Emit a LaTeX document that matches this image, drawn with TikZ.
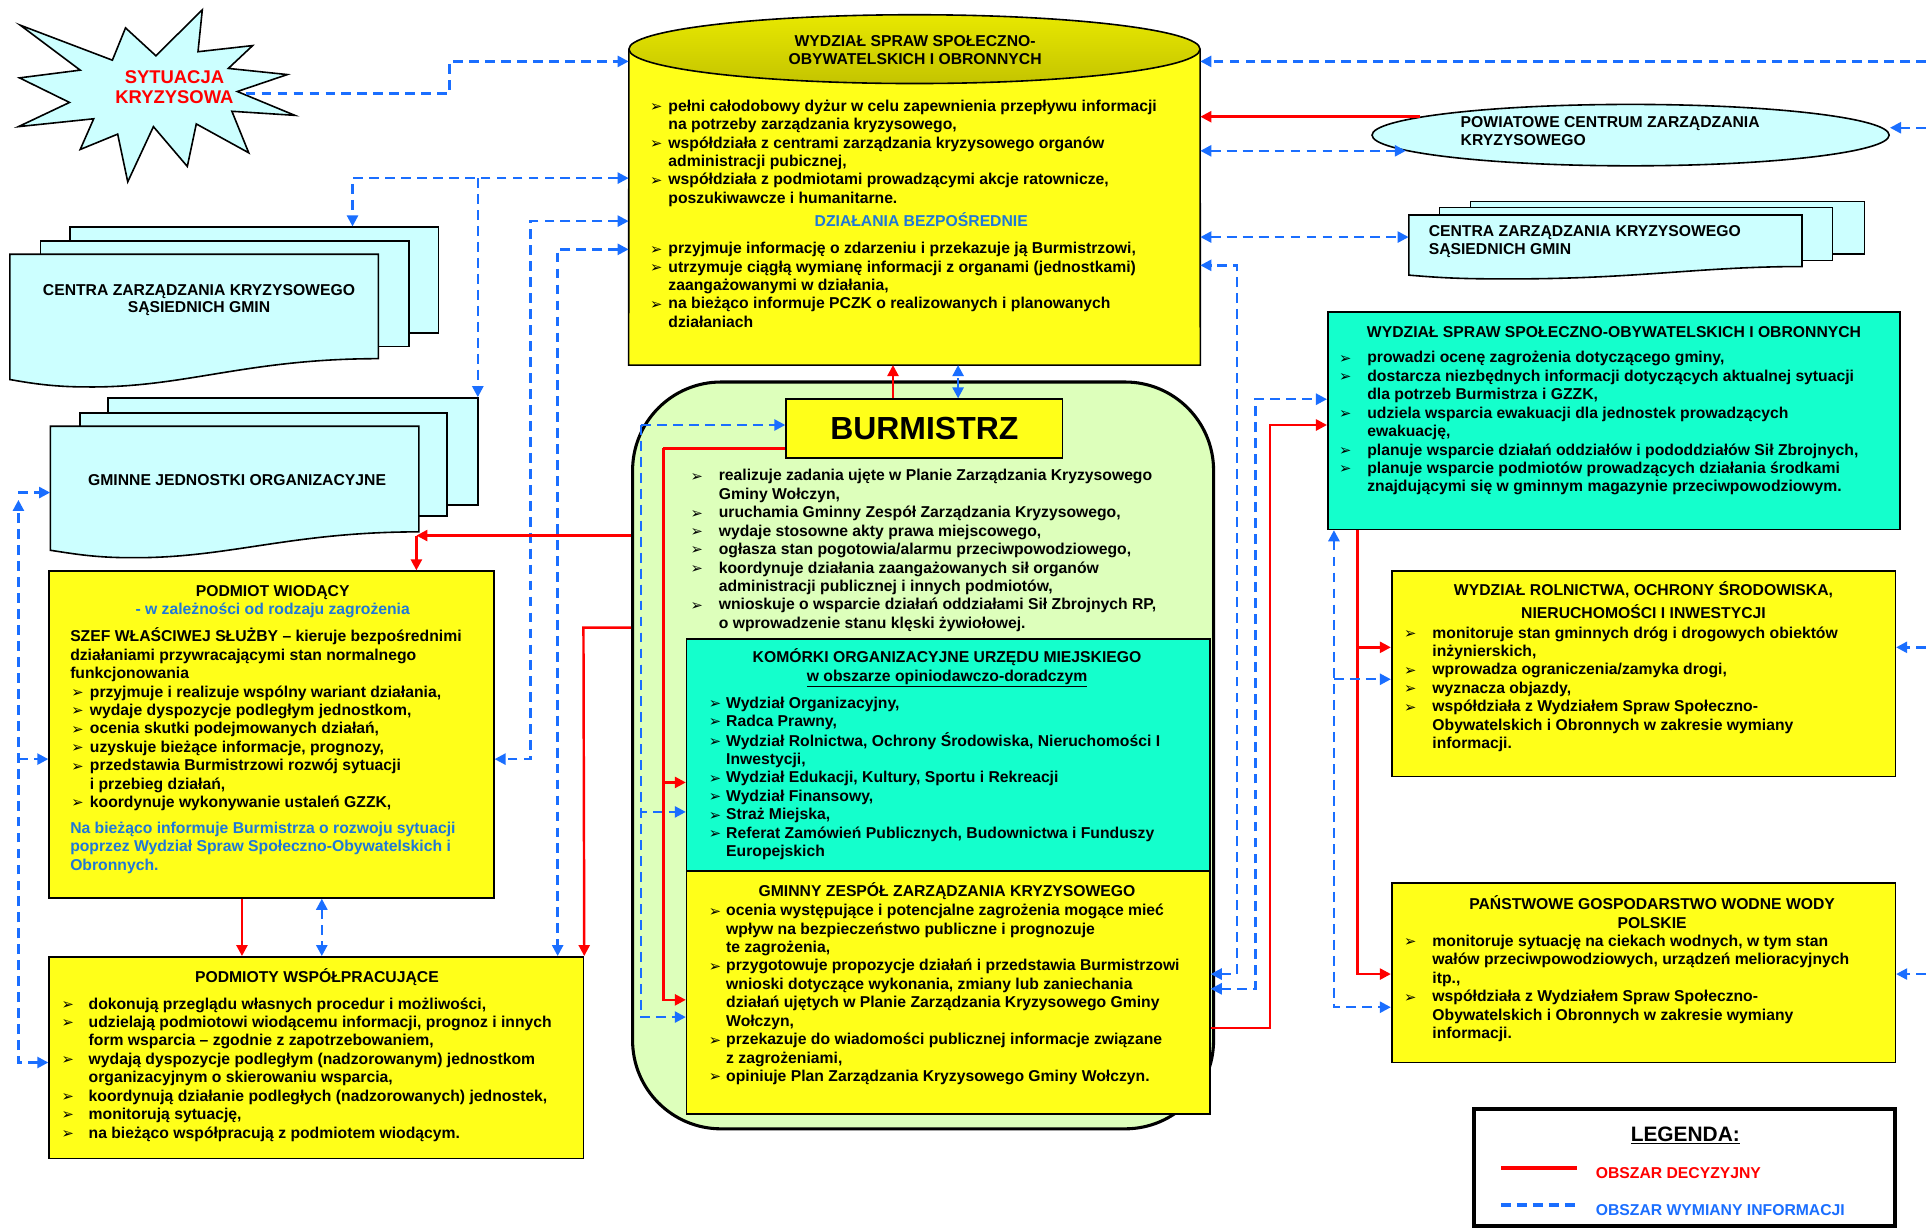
\documentclass[tikz,border=0pt]{standalone}
\usepackage{fontspec}
\setmainfont{Liberation Sans}
\newfontfamily\dejavu{DejaVu Sans}
\usetikzlibrary{arrows.meta,calc,shapes.geometric}
\definecolor{yel}{HTML}{FFFF19}
\definecolor{yeltop}{HTML}{E8E800}
\definecolor{yelbot}{HTML}{C4C400}
\definecolor{cya}{HTML}{CCFFFF}
\definecolor{tea}{HTML}{14FFCC}
\definecolor{lgr}{HTML}{DDFFBB}
\definecolor{blu}{HTML}{1A6EFF}
\definecolor{btx}{HTML}{1F77D9}
\definecolor{rd}{HTML}{FF0000}
\newcommand\body{\fontsize{12.8}{15}\selectfont\bfseries}
\newcommand\bl{\raisebox{-0.3pt}{\dejavu\bfseries\fontsize{12}{12}\selectfont ➢}}
\tikzset{
  box/.style={draw=black, line width=1.3pt, inner sep=0pt},
  txt/.style={inner sep=0pt, anchor=base west, font=\body},
  ctx/.style={inner sep=0pt, anchor=base, font=\body, align=center},
  info/.style={draw=blu, line width=2pt, dash pattern=on 8pt off 5pt},
  dec/.style={draw=rd, line width=2pt},
  >={Triangle[length=9pt,width=9pt]},
  doc/.style={draw=black, line width=1.3pt, fill=cya}
}
\begin{document}
\begin{tikzpicture}[x=1pt,y=-1pt]
\useasboundingbox (0,0) rectangle (1568,1001);
\fill[white] (0,0) rectangle (1568,1001);

% ---------- star ----------
\draw[line width=1.3pt, fill=cya] (16.5,20.5) -- (91.5,49) -- (102.2,22.7) -- (126.9,45.4) -- (164.7,8) -- (161.2,42.1) -- (205.7,37.1) -- (185.9,55.7) -- (233.9,60.7) -- (193.2,74.5) -- (240,93.9) -- (188.8,90.6) -- (202.5,124.4) -- (159.8,100.9) -- (152.5,135.5) -- (124.9,103.1) -- (104,148) -- (95.8,109.2) -- (65.3,121.7) -- (76.3,96.7) -- (15,103.1) -- (56.6,83.4) -- (15.9,63.4) -- (65.3,57.1) -- cycle;
\node[inner sep=0pt, align=center, text=rd, font=\fontsize{15}{17}\selectfont\bfseries] (sit) at (142,71) {SYTUACJA\\KRYZYSOWA};
\coordinate (sittip) at (200,76);

% ---------- cylinder ----------
\node[inner sep=0pt, minimum width=465pt, minimum height=285pt] (cyl) at (744.5,154.5) {};
\fill[yel] (512,40) -- (cyl.south west) -- (cyl.south east) -- (977,40) -- cycle;
\draw[line width=1.3pt] (512,40) -- (cyl.south west) -- (cyl.south east) -- (977,40);
\shade[top color=yeltop, bottom color=yelbot] (744.5,40) ellipse [x radius=232.5pt, y radius=28pt];
\draw[line width=1.3pt] (744.5,40) ellipse [x radius=232.5pt, y radius=28pt];
\node[ctx] (cyltt) at (745,37.5) {\begin{tabular}[t]{@{}c@{}}WYDZIAŁ SPRAW SPOŁECZNO-\\OBYWATELSKICH I OBRONNYCH\end{tabular}};
\node[txt] (cyltx1) at (529,90.5) {\begin{tabular}[t]{@{}p{15pt}@{}l@{}}
\bl & pełni całodobowy dyżur w celu zapewnienia przepływu informacji\\
 & na potrzeby zarządzania kryzysowego,\\
\bl & współdziała z centrami zarządzania kryzysowego organów\\
 & administracji pubicznej,\\
\bl & współdziała z podmiotami prowadzącymi akcje ratownicze,\\
 & poszukiwawcze i humanitarne.
\end{tabular}};
\node[ctx, text=btx] (cylhd) at (750,184.5) {DZIAŁANIA BEZPOŚREDNIE};
\node[txt] (cyltx2) at (529,206.5) {\begin{tabular}[t]{@{}p{15pt}@{}l@{}}
\bl & przyjmuje informację o zdarzeniu i przekazuje ją Burmistrzowi,\\
\bl & utrzymuje ciągłą wymianę informacji z organami (jednostkami)\\
 & zaangażowanymi w działania,\\
\bl & na bieżąco informuje PCZK o realizowanych i planowanych\\
 & działaniach
\end{tabular}};

% ---------- PCZK ellipse ----------
\node[draw=black, line width=1.3pt, fill=cya, ellipse, inner sep=0pt, minimum width=421pt, minimum height=50pt] (pczk) at (1327.5,110) {};
\node[txt] (pczkt) at (1189,103.5) {\begin{tabular}[t]{@{}l@{}}POWIATOWE CENTRUM ZARZĄDZANIA\\KRYZYSOWEGO\end{tabular}};

% ---------- right CENTRA (documents) ----------
\node[box, fill=cya, minimum width=321pt, minimum height=43pt] (cen2c) at (1357.5,185.5) {};
\node[box, fill=cya, minimum width=320pt, minimum height=43pt] (cen2b) at (1332,190.5) {};
\draw[doc] (1147,175) -- (1467,175) -- (1467,217) .. controls (1380,217) and (1330,228) .. (1215,227) .. controls (1180,227) and (1160,225) .. (1147,224) -- cycle;
\node[inner sep=0pt, minimum width=320pt, minimum height=50pt] (cen2) at (1307,200) {};
\node[txt] (cen2t) at (1163,192.5) {\begin{tabular}[t]{@{}l@{}}CENTRA ZARZĄDZANIA KRYZYSOWEGO\\SĄSIEDNICH GMIN\end{tabular}};

% ---------- WYDZIAL (teal, right) ----------
\node[box, fill=tea, minimum width=466pt, minimum height=177pt] (wyd) at (1314,342.5) {};
\node[ctx] (wydt) at (1314,274.5) {WYDZIAŁ SPRAW SPOŁECZNO-OBYWATELSKICH I OBRONNYCH};
\node[txt] (wydx) at (1090,295.5) {\begin{tabular}[t]{@{}p{23pt}@{}l@{}}
\bl & prowadzi ocenę zagrożenia dotyczącego gminy,\\
\bl & dostarcza niezbędnych informacji dotyczących aktualnej sytuacji\\
 & dla potrzeb Burmistrza i GZZK,\\
\bl & udziela wsparcia ewakuacji dla jednostek prowadzących\\
 & ewakuację,\\
\bl & planuje wsparcie działań oddziałów i pododdziałów Sił Zbrojnych,\\
\bl & planuje wsparcie podmiotów prowadzących działania środkami\\
 & znajdującymi się w gminnym magazynie przeciwpowodziowym.
\end{tabular}};

% ---------- ROLNICTWA ----------
\node[box, fill=yel, minimum width=410pt, minimum height=167pt] (rol) at (1338,548.5) {};
\node[ctx] (rolt) at (1338,484.5) {\begin{tabular}[t]{@{}c@{}}WYDZIAŁ ROLNICTWA, OCHRONY ŚRODOWISKA,\\[3pt]NIERUCHOMOŚCI I INWESTYCJI\end{tabular}};
\node[txt] (rolx) at (1143,519.5) {\begin{tabular}[t]{@{}p{23pt}@{}l@{}}
\bl & monitoruje stan gminnych dróg i drogowych obiektów\\
 & inżynierskich,\\
\bl & wprowadza ograniczenia/zamyka drogi,\\
\bl & wyznacza objazdy,\\
\bl & współdziała z Wydziałem Spraw Społeczno-\\
 & Obywatelskich i Obronnych w zakresie wymiany\\
 & informacji.
\end{tabular}};

% ---------- PANSTWOWE ----------
\node[box, fill=yel, minimum width=410pt, minimum height=146pt] (pgw) at (1338,792) {};
\node[ctx] (pgwt) at (1345,740.5) {\begin{tabular}[t]{@{}c@{}}PAŃSTWOWE GOSPODARSTWO WODNE WODY\\POLSKIE\end{tabular}};
\node[txt] (pgwx) at (1143,770.5) {\begin{tabular}[t]{@{}p{23pt}@{}l@{}}
\bl & monitoruje sytuację na ciekach wodnych, w tym stan\\
 & wałów przeciwpowodziowych, urządzeń melioracyjnych\\
 & itp.,\\
\bl & współdziała z Wydziałem Spraw Społeczno-\\
 & Obywatelskich i Obronnych w zakresie wymiany\\
 & informacji.
\end{tabular}};

% ---------- left CENTRA (documents) ----------
\node[box, fill=cya, minimum width=300pt, minimum height=86pt] (cen1c) at (207,228) {};
\node[box, fill=cya, minimum width=300pt, minimum height=86pt] (cen1b) at (183,239) {};
\draw[doc] (8,207) -- (308,207) -- (308,292) .. controls (200,292) and (150,316) .. (70,315) .. controls (40,315) and (20,311) .. (8,309) -- cycle;
\node[inner sep=0pt, minimum width=300pt, minimum height=108pt] (cen1) at (158,261) {};
\node[ctx] (cen1t) at (162,240.5) {\begin{tabular}[t]{@{}c@{}}CENTRA ZARZĄDZANIA KRYZYSOWEGO\\[-1pt]SĄSIEDNICH GMIN\end{tabular}};

% ---------- GMINNE JEDNOSTKI ----------
\node[box, fill=cya, minimum width=301pt, minimum height=87pt] (gmc) at (238.5,367.5) {};
\node[box, fill=cya, minimum width=299pt, minimum height=84pt] (gmb) at (214.5,378) {};
\draw[doc] (41,347) -- (341,347) -- (341,433) .. controls (235,433) and (185,455) .. (105,454) .. controls (75,454) and (55,450) .. (41,448) -- cycle;
\node[inner sep=0pt, minimum width=300pt, minimum height=107pt] (gm) at (191,400.5) {};
\node[ctx] (gmt) at (193,395.5) {GMINNE JEDNOSTKI ORGANIZACYJNE};

% ---------- PODMIOT WIODACY ----------
\node[box, fill=yel, minimum width=362pt, minimum height=266pt] (pw) at (221,598) {};
\node[ctx] (pwt) at (222,485.5) {PODMIOT WIODĄCY};
\node[ctx, text=btx] (pws1) at (222,500.5) {- w zależności od rodzaju zagrożenia};
\node[txt] (pwa) at (57,522.5) {\begin{tabular}[t]{@{}l@{}}SZEF WŁAŚCIWEJ SŁUŻBY – kieruje bezpośrednimi\\działaniami przywracającymi stan normalnego\\funkcjonowania\end{tabular}};
\node[txt] (pwb) at (58,567.5) {\begin{tabular}[t]{@{}p{15pt}@{}l@{}}
\bl & przyjmuje i realizuje wspólny wariant działania,\\
\bl & wydaje dyspozycje podległym jednostkom,\\
\bl & ocenia skutki podejmowanych działań,\\
\bl & uzyskuje bieżące informacje, prognozy,\\
\bl & przedstawia Burmistrzowi rozwój sytuacji\\
 & i przebieg działań,\\
\bl & koordynuje wykonywanie ustaleń GZZK,
\end{tabular}};
\node[txt, text=btx] (pwc) at (57,678.5) {\begin{tabular}[t]{@{}l@{}}Na bieżąco informuje Burmistrza o rozwoju sytuacji\\poprzez Wydział Spraw Społeczno-Obywatelskich i\\Obronnych.\end{tabular}};

% ---------- PODMIOTY WSPOLPRACUJACE ----------
\node[box, fill=yel, minimum width=435pt, minimum height=164pt] (pws) at (257.5,861) {};
\node[ctx] (pwst) at (258,799.5) {PODMIOTY WSPÓŁPRACUJĄCE};
\node[txt] (pwsx) at (50,821.5) {\begin{tabular}[t]{@{}p{22pt}@{}l@{}}
\bl & dokonują przeglądu własnych procedur i możliwości,\\
\bl & udzielają podmiotowi wiodącemu informacji, prognoz i innych\\
 & form wsparcia – zgodnie z zapotrzebowaniem,\\
\bl & wydają dyspozycje podległym (nadzorowanym) jednostkom\\
 & organizacyjnym o skierowaniu wsparcia,\\
\bl & koordynują działanie podległych (nadzorowanych) jednostek,\\
\bl & monitorują sytuację,\\
\bl & na bieżąco współpracują z podmiotem wiodącym.
\end{tabular}};

% ---------- container with BURMISTRZ ----------
\node[draw=black, line width=2.5pt, fill=lgr, rounded corners=72pt, minimum width=473pt, minimum height=608pt, inner sep=0pt] (cont) at (751.5,615) {};
\node[box, fill=yel, minimum width=225pt, minimum height=48pt, font=\fontsize{26}{26}\selectfont\bfseries] (bur) at (752.5,349) {BURMISTRZ};
\node[txt] (burx) at (562,391.5) {\begin{tabular}[t]{@{}p{23pt}@{}l@{}}
\bl & realizuje zadania ujęte w Planie Zarządzania Kryzysowego\\
 & Gminy Wołczyn,\\
\bl & uruchamia Gminny Zespół Zarządzania Kryzysowego,\\
\bl & wydaje stosowne akty prawa miejscowego,\\
\bl & ogłasza stan pogotowia/alarmu przeciwpowodziowego,\\
\bl & koordynuje działania zaangażowanych sił organów\\
 & administracji publicznej i innych podmiotów,\\
\bl & wnioskuje o wsparcie działań oddziałami Sił Zbrojnych RP,\\
 & o wprowadzenie stanu klęski żywiołowej.
\end{tabular}};

\node[box, fill=tea, minimum width=426pt, minimum height=189pt] (kom) at (772,614.5) {};
\node[ctx] (komt) at (771,539.5) {\begin{tabular}[t]{@{}c@{}}KOMÓRKI ORGANIZACYJNE URZĘDU MIEJSKIEGO\\\underline{w obszarze opiniodawczo-doradczym}\end{tabular}};
\node[txt] (komx) at (577,576.5) {\begin{tabular}[t]{@{}p{14pt}@{}l@{}}
\bl & Wydział Organizacyjny,\\
\bl & Radca Prawny,\\
\bl & Wydział Rolnictwa, Ochrony Środowiska, Nieruchomości I\\
 & Inwestycji,\\
\bl & Wydział Edukacji, Kultury, Sportu i Rekreacji\\
\bl & Wydział Finansowy,\\
\bl & Straż Miejska,\\
\bl & Referat Zamówień Publicznych, Budownictwa i Funduszy\\
 & Europejskich
\end{tabular}};

\node[box, fill=yel, minimum width=426pt, minimum height=198pt] (gzzk) at (772,808) {};
\node[ctx] (gzzkt) at (771,729.5) {GMINNY ZESPÓŁ ZARZĄDZANIA KRYZYSOWEGO};
\node[txt] (gzzkx) at (577,745.5) {\begin{tabular}[t]{@{}p{14pt}@{}l@{}}
\bl & ocenia występujące i potencjalne zagrożenia mogące mieć\\
 & wpływ na bezpieczeństwo publiczne i prognozuje\\
 & te zagrożenia,\\
\bl & przygotowuje propozycje działań i przedstawia Burmistrzowi\\
 & wnioski dotyczące wykonania, zmiany lub zaniechania\\
 & działań ujętych w Planie Zarządzania Kryzysowego Gminy\\
 & Wołczyn,\\
\bl & przekazuje do wiadomości publicznej informacje związane\\
 & z zagrożeniami,\\
\bl & opiniuje Plan Zarządzania Kryzysowego Gminy Wołczyn.
\end{tabular}};

% ---------- legend ----------
\node[draw=black, line width=3pt, minimum width=343pt, minimum height=95pt, inner sep=0pt] (leg) at (1371.5,950.5) {};
\node[ctx, font=\fontsize{17}{17}\selectfont\bfseries] (legt) at (1372,929) {\underline{LEGENDA:}};
\coordinate (lr1) at (1222,951);
\coordinate (lr2) at (1284,951);
\coordinate (lb1) at (1222,981);
\coordinate (lb2) at (1284,981);
\draw[dec, line width=3pt] (lr1) -- (lr2);
\draw[info, line width=3pt] (lb1) -- (lb2);
\node[txt, text=rd] (legr) at (1299,959.5) {OBSZAR DECYZYJNY};
\node[txt, text=blu] (legb) at (1299,989.5) {OBSZAR WYMIANY INFORMACJI};

% ---------- off-page free ends ----------
\coordinate (offA) at (1568,50);
\coordinate (offB) at (1568,104);
\coordinate (offC) at (1568,527);
\coordinate (offD) at (1568,793);

% ---------- connectors ----------
\draw[info,->] (sittip) -- (366,76) |- (cyl.west |- 0,50);
\draw[info,->] (offA) -- (cyl.east |- offA);
\draw[dec,->] (pczk.175) -- (cyl.east |- pczk.175);
\draw[info,<->] (cyl.east |- pczk.184) -- (pczk.184);
\draw[info,->] (offB) -- (pczk.east |- offB);
\draw[info,<->] (cyl.east |- 0,193) -- (cen2.west |- 0,193);

\draw[info,<->] (gzzk.east |- 0,793) -- (1007,793) |- (cyl.east |- 0,216);
\draw[info,<->] (gzzk.east |- 0,805) -- (1022,805) |- (wyd.west |- 0,325);
\draw[dec,->] (gzzk.east |- 0,837) -- (1034,837) |- (wyd.west |- 0,346);
\draw[dec,->] (wyd.south -| 1105,0) |- (rol.west |- 0,527);
\draw[dec,->] (wyd.south -| 1105,0) |- (pgw.west |- 0,793);
\draw[info,<->] (wyd.south -| 1086,0) |- (pgw.west |- 0,820);
\coordinate (jb) at (1086,553);
\draw[info,->] (jb) -- (rol.west |- jb);
\draw[info,->] (offC) -- (rol.east |- offC);
\draw[info,->] (offD) -- (pgw.east |- offD);

\draw[info,<->] (cyl.west |- 0,145) -| (cen1c.north -| 287,0);
\coordinate (jg) at (389,145);
\draw[info,->] (jg) -- (gmc.north -| jg);
\draw[info,<->] (cyl.west |- 0,180) -- (432,180) |- (pw.east |- 0,618);
\draw[info,<->] (cyl.west |- 0,203) -| (pws.north -| 454,0);
\coordinate (jr) at (339,436);
\draw[dec,->] (cont.west |- jr) -- (jr);
\draw[dec,->] (jr) -- (pw.north -| jr);
\draw[dec,->] (cont.west |- 0,511) -- (475,511) -- (pws.north east);
\draw[dec,->] (pw.south -| 197,0) -- (pws.north -| 197,0);
\draw[info,<->] (pw.south -| 262,0) -- (pws.north -| 262,0);
\coordinate (jl) at (15,407);
\draw[info,<->] (pws.west |- 0,865) -| (jl);
\draw[info,->] (15,401) -- (gm.west |- 0,401);
\draw[info,->] (15,618) -- (pw.west |- 0,618);

\coordinate (jc) at (522,346);
\draw[info,->] (jc) -- (bur.west |- jc);
\draw[info,->] (jc) |- (kom.west |- 0,661);
\draw[info,->] (jc) |- (gzzk.west |- 0,828);
\coordinate (jd) at (540,365);
\draw[dec] (bur.west |- jd) -- (jd);
\draw[dec,->] (jd) |- (kom.west |- 0,637);
\draw[dec,->] (jd) |- (gzzk.west |- 0,814);
\draw[dec,->] (bur.north -| 727,0) -- (cyl.south -| 727,0);
\draw[info,<->] (bur.north -| 780,0) -- (cyl.south -| 780,0);
\end{tikzpicture}
\end{document}
